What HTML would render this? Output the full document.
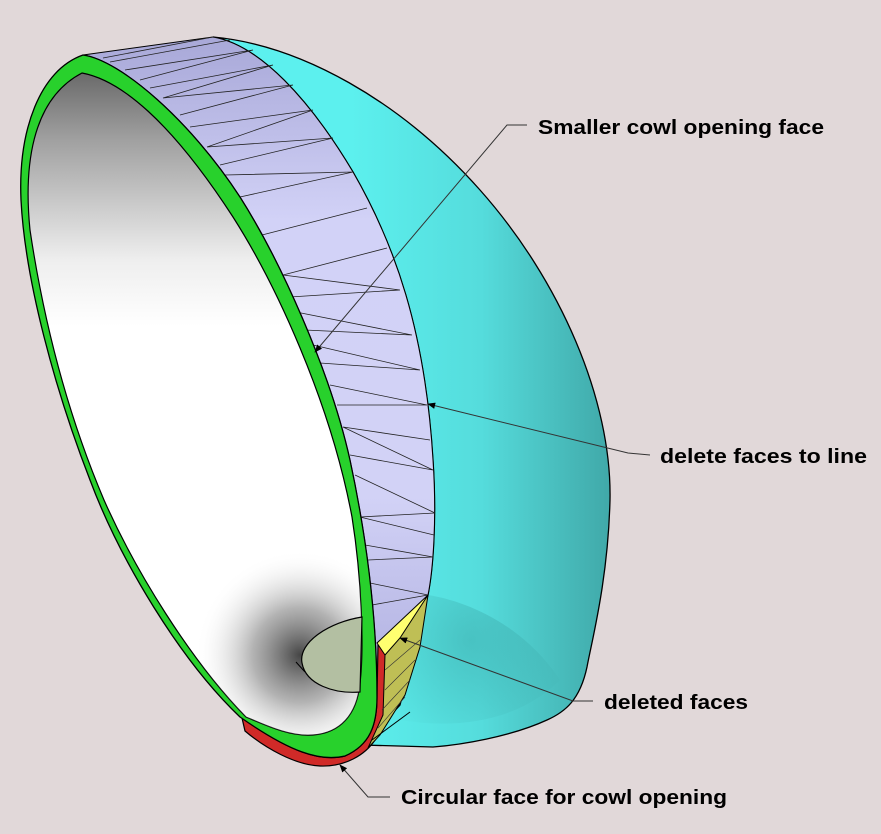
<!DOCTYPE html>
<html><head><meta charset="utf-8"><style>
html,body{margin:0;padding:0;background:#e1d8d9;}
svg{display:block}
text{font-family:"Liberation Sans",sans-serif;font-weight:bold;font-size:20px;fill:#000}
</style></head><body>
<svg width="881" height="834" viewBox="0 0 881 834" xmlns="http://www.w3.org/2000/svg">
<defs>
<linearGradient id="cy" x1="350" y1="0" x2="612" y2="0" gradientUnits="userSpaceOnUse">
<stop offset="0" stop-color="#5cf0ee"/><stop offset="0.5" stop-color="#55dcdc"/><stop offset="1" stop-color="#40a8a8"/>
</linearGradient>
<radialGradient id="cyd" cx="470" cy="640" r="110" gradientUnits="userSpaceOnUse">
<stop offset="0" stop-color="#2f9090" stop-opacity="0.35"/><stop offset="1" stop-color="#2f9090" stop-opacity="0"/>
</radialGradient>
<linearGradient id="lav" x1="0" y1="37" x2="0" y2="650" gradientUnits="userSpaceOnUse">
<stop offset="0" stop-color="#a8a8d8"/><stop offset="0.3" stop-color="#d2d2f7"/><stop offset="0.75" stop-color="#d2d2f6"/><stop offset="1" stop-color="#b6b6e4"/>
</linearGradient>
<linearGradient id="wh" x1="0" y1="73" x2="0" y2="740" gradientUnits="userSpaceOnUse">
<stop offset="0" stop-color="#6a6a6a"/><stop offset="0.1" stop-color="#a0a0a0"/><stop offset="0.28" stop-color="#eeeeee"/><stop offset="0.38" stop-color="#fff"/><stop offset="1" stop-color="#fff"/>
</linearGradient>
<radialGradient id="dk" cx="300" cy="655" r="105" gradientUnits="userSpaceOnUse">
<stop offset="0" stop-color="#3c3c3c" stop-opacity="0.95"/><stop offset="0.45" stop-color="#808080" stop-opacity="0.6"/><stop offset="1" stop-color="#ffffff" stop-opacity="0"/>
</radialGradient>
<clipPath id="inner"><path d="M82,73 C120,80 170,120 233,217 C275,283 330,400 352,517 C362,580 364,650 360,683 C357,715 340,733 313,735 C290,737 265,725 246,717 C190,660 135,570 104,500 C70,420 45,330 30,230 C24,170 30,100 82,73 Z"/></clipPath>
<marker id="ar" viewBox="0 0 10 10" refX="9" refY="5" markerWidth="8" markerHeight="8" orient="auto" markerUnits="userSpaceOnUse"><path d="M0,1 L10,5 L0,9 Z" fill="#000"/></marker>
</defs>

<!-- cyan body -->
<path d="M213,37 C300,45 400,100 480,190 C560,280 612,400 610,500 C608,580 592,640 587,667 C580,700 565,712 547,720 C510,737 460,745 433,747 L363,745 L400,705 L428,595 C433,570 437,520 433,460 C425,330 395,245 353,172 C310,100 260,45 213,37 Z" fill="url(#cy)" stroke="#000" stroke-width="1.3"/>
<path d="M400,705 L428,595 C460,600 520,620 560,680 C520,720 460,730 400,720 Z" fill="url(#cyd)"/>

<!-- lavender band -->
<path d="M83,55 L213,37 C260,45 310,100 353,172 C395,245 425,330 433,460 C437,520 433,570 428,595 L377,697 C377,610 365,530 350,460 C330,370 280,260 240,197 C190,120 120,60 83,55 Z" fill="url(#lav)" stroke="#000" stroke-width="1"/>
<g stroke="#222" stroke-width="0.8" fill="none">
<path d="M103,58 L213,37 M110,62 L230,40 M125,70 L253,50 M140,80 L253,50 M150,88 L273,65 M163,98 L273,65 M163,98 L293,85 M180,115 L293,85 M190,127 L313,110 M207,147 L313,110 M207,147 L333,138 M220,165 L333,138 M225,175 L353,172 M240,197 L353,172 M262,235 L367,208 M283,275 L387,248 M283,275 L400,290 M290,297 L400,290 M296,312 L412,335 M305,330 L412,335 M313,345 L420,370 M320,363 L420,370 M330,385 L427,405 M337,405 L427,405 M343,427 L433,470 M343,427 L430,440 M350,455 L433,470 M355,475 L435,513 M360,517 L435,513 M360,517 L434,535 M365,545 L433,557 M368,560 L433,557 M370,583 L428,595 M372,605 L428,595"/>
</g>

<!-- red face -->
<path d="M242,718 L245,731 C265,748 295,765 320,766 C345,767 365,755 375,740 C385,720 390,690 388,655 L378,645 L377,697 C377,725 370,745 345,756 C320,762 290,752 242,718 Z" fill="#d02a28" stroke="#000" stroke-width="1.2"/>
<!-- green ring -->
<path d="M83,55 C120,60 190,120 240,197 C280,260 330,370 350,460 C365,530 377,610 377,697 C377,725 370,745 345,756 C320,762 290,752 240,717 C180,660 120,560 90,480 C55,390 25,280 21,200 C18,130 40,70 83,55 Z" fill="#28d12c" stroke="#000" stroke-width="1.3"/>
<!-- interior -->
<path d="M82,73 C120,80 170,120 233,217 C275,283 330,400 352,517 C362,580 364,650 360,683 C357,715 340,733 313,735 C290,737 265,725 246,717 C190,660 135,570 104,500 C70,420 45,330 30,230 C24,170 30,100 82,73 Z" fill="url(#wh)" stroke="#000" stroke-width="1.2"/>
<rect x="180" y="540" width="200" height="210" fill="url(#dk)" clip-path="url(#inner)"/>
<!-- disc -->
<path d="M362,617 C330,622 298,642 302,663 C306,685 335,694 360,692 Z" fill="#b3bfa2" stroke="#000" stroke-width="1.2"/>
<path d="M296,662 L305,672" stroke="#000" stroke-width="1"/>
<!-- olive & yellow -->
<path d="M428,595 L385,655 L383,715 L368,748 L380,735 L405,695 L420,647 Z" fill="#bfbf55" stroke="#000" stroke-width="1"/>
<g stroke="#333" stroke-width="0.6"><path d="M385,670 L420,640 M385,690 L415,660 M382,710 L410,680 M378,728 L405,697"/></g>
<path d="M428,595 L377,643 L385,655 L400,638 Z" fill="#ffff70" stroke="#000" stroke-width="1"/>
<path d="M372,740 L410,712" stroke="#000" stroke-width="1"/>

<!-- leaders -->
<g stroke="#333" stroke-width="1" fill="none">
<polyline points="527,125 507,125 315,352" marker-end="url(#ar)"/>
<polyline points="650,455 628,453 428,404" marker-end="url(#ar)"/>
<polyline points="593,701 573,701 400,638" marker-end="url(#ar)"/>
<polyline points="390,797 368,797 340,765" marker-end="url(#ar)"/>
</g>
<text x="538" y="134" textLength="286" lengthAdjust="spacingAndGlyphs">Smaller cowl opening face</text>
<text x="660" y="463" textLength="207" lengthAdjust="spacingAndGlyphs">delete faces to line</text>
<text x="604" y="709" textLength="144" lengthAdjust="spacingAndGlyphs">deleted faces</text>
<text x="401" y="804" textLength="326" lengthAdjust="spacingAndGlyphs">Circular face for cowl opening</text>
</svg>
</body></html>
